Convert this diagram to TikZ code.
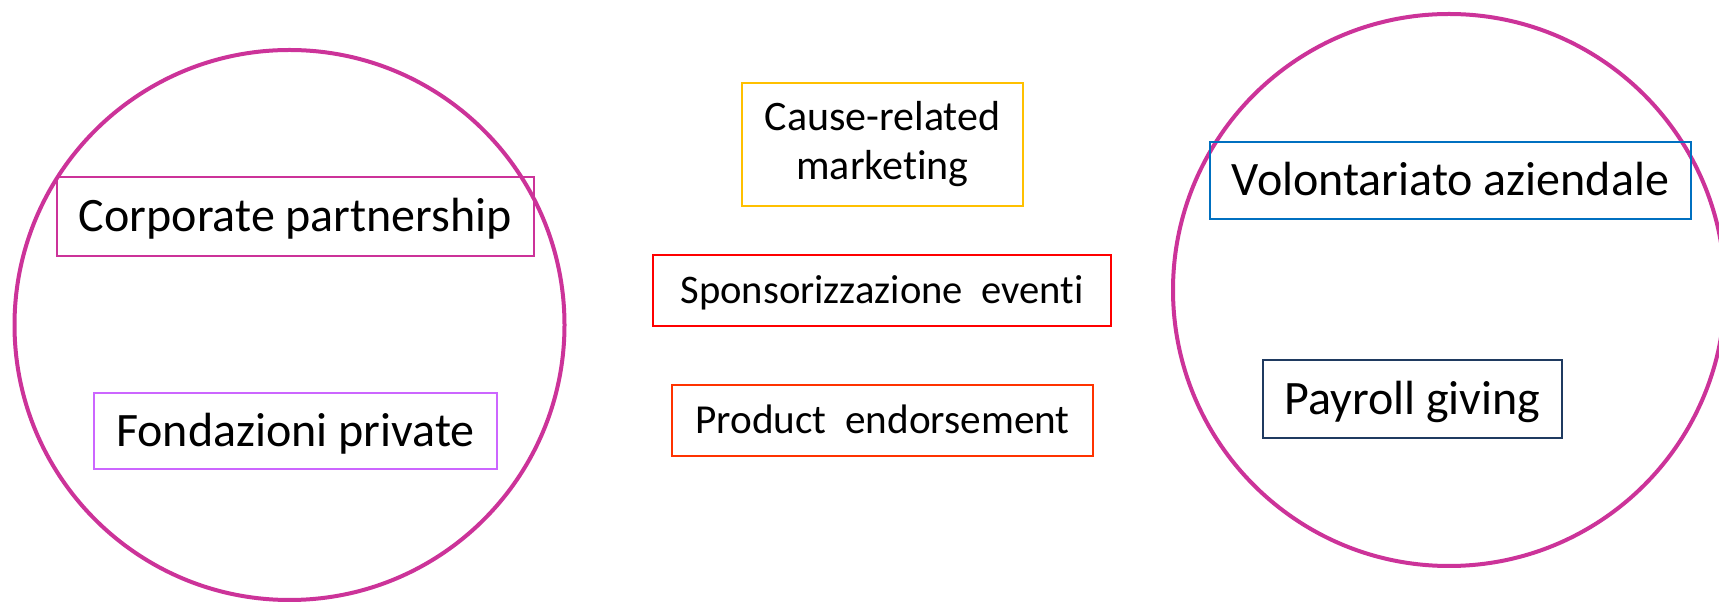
\documentclass[tikz,border=0pt]{standalone}
\usepackage{fontspec}
\setmainfont[RawFeature={-liga}]{Carlito}
\definecolor{ringcol}{HTML}{CC3399}
\definecolor{fondcol}{HTML}{CC66FF}
\definecolor{causecol}{HTML}{FFC000}
\definecolor{sponscol}{HTML}{FF0000}
\definecolor{prodcol}{HTML}{FF3300}
\definecolor{volcol}{HTML}{0070C0}
\definecolor{paycol}{HTML}{1F3A60}
\begin{document}
\begin{tikzpicture}[x=0.5pt,y=-0.5pt,
  ring/.style={circle,draw=ringcol,line width=2pt,inner sep=0pt},
  itembox/.style={rectangle,draw,line width=1pt,inner sep=0pt,text depth=0pt},
  big/.style={font=\fontsize{24}{29}\selectfont,text height=15.46pt}]
\clip (0,0) rectangle (1719,603);
\fill[white] (0,0) rectangle (1719,603);

% the two groups
\node[ring,minimum size=275pt] (company) at (289.5,325) {};
\node[ring,minimum size=276pt] (staff) at (1449,290) {};

% left group
\node[itembox,big,draw=ringcol,minimum width=238.5pt,minimum height=39.5pt]
  (corp) at (295.5,216.5) {Corporate partnership};
\node[itembox,big,draw=fondcol,minimum width=201.5pt,minimum height=38pt]
  (fond) at (295.5,431) {Fondazioni private};

% middle column
\node[rectangle,draw=causecol,line width=1pt,inner sep=0pt,align=center,
  font=\fontsize{21}{24.5}\selectfont,minimum width=140.5pt,minimum height=61.5pt]
  (cause) at (882.5,144.5) {\raisebox{-1.5pt}{Cause-related}\\\raisebox{-1.5pt}{marketing}};
\node[itembox,draw=sponscol,font=\fontsize{20.3}{24}\selectfont,text height=13.07pt,
  minimum width=229pt,minimum height=35.5pt]
  (spons) at (882,290.5) {Sponsorizzazione\ \ eventi};
\node[itembox,draw=prodcol,font=\fontsize{20.6}{25}\selectfont,text height=13.27pt,
  minimum width=210.5pt,minimum height=35.5pt]
  (prod) at (882.5,420.5) {Product\ \ endorsement};

% right group
\node[itembox,big,draw=volcol,minimum width=240.5pt,minimum height=38.5pt]
  (vol) at (1450.5,180.5) {Volontariato aziendale};
\node[itembox,big,draw=paycol,minimum width=149.5pt,minimum height=39pt]
  (pay) at (1412.5,399) {Payroll giving};
\end{tikzpicture}
\end{document}
